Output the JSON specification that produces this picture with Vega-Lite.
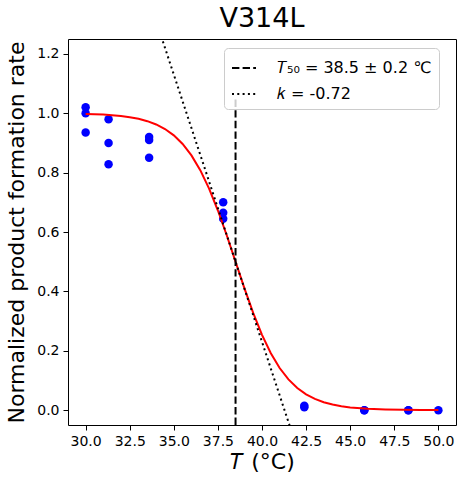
{
  "$schema": "https://vega.github.io/schema/vega-lite/v6.json",
  "width": 388,
  "height": 386,
  "autosize": {"type": "none"},
  "padding": {"left": 68, "top": 39, "right": 8, "bottom": 62},
  "background": "white",
  "title": {"text": "V314L", "fontSize": 27, "font": "DejaVu Sans", "fontWeight": "normal", "color": "black", "offset": 6},
  "datasets": {
    "obs": [
      {"T": 30.0, "rate": 1.02}, {"T": 30.0, "rate": 1.0}, {"T": 30.0, "rate": 0.935},
      {"T": 31.3, "rate": 0.98}, {"T": 31.3, "rate": 0.90}, {"T": 31.3, "rate": 0.828},
      {"T": 33.6, "rate": 0.92}, {"T": 33.6, "rate": 0.91}, {"T": 33.6, "rate": 0.85},
      {"T": 37.8, "rate": 0.70}, {"T": 37.8, "rate": 0.665}, {"T": 37.8, "rate": 0.645},
      {"T": 42.4, "rate": 0.015}, {"T": 42.4, "rate": 0.01},
      {"T": 45.8, "rate": 0.0}, {"T": 45.8, "rate": 0.0},
      {"T": 48.3, "rate": 0.0}, {"T": 48.3, "rate": 0.0},
      {"T": 50.0, "rate": 0.0}
    ],
    "fit": [
      {"T": 30.0, "rate": 0.9978}, {"T": 30.5, "rate": 0.9968}, {"T": 31.0, "rate": 0.9955},
      {"T": 31.5, "rate": 0.9935}, {"T": 32.0, "rate": 0.9908}, {"T": 32.5, "rate": 0.9868},
      {"T": 33.0, "rate": 0.9812}, {"T": 33.5, "rate": 0.9733}, {"T": 34.0, "rate": 0.9622},
      {"T": 34.5, "rate": 0.9468}, {"T": 35.0, "rate": 0.9254}, {"T": 35.5, "rate": 0.8965},
      {"T": 36.0, "rate": 0.858}, {"T": 36.5, "rate": 0.8083}, {"T": 37.0, "rate": 0.7463},
      {"T": 37.5, "rate": 0.6724}, {"T": 38.0, "rate": 0.5891}, {"T": 38.5, "rate": 0.5},
      {"T": 39.0, "rate": 0.411}, {"T": 39.5, "rate": 0.3276}, {"T": 40.0, "rate": 0.2537},
      {"T": 40.5, "rate": 0.1917}, {"T": 41.0, "rate": 0.142}, {"T": 41.5, "rate": 0.1036},
      {"T": 42.0, "rate": 0.0746}, {"T": 42.5, "rate": 0.0532}, {"T": 43.0, "rate": 0.0378},
      {"T": 43.5, "rate": 0.0267}, {"T": 44.0, "rate": 0.0188}, {"T": 44.5, "rate": 0.0132},
      {"T": 45.0, "rate": 0.0092}, {"T": 46.0, "rate": 0.0045}, {"T": 47.0, "rate": 0.0022},
      {"T": 48.0, "rate": 0.0011}, {"T": 49.0, "rate": 0.0005}, {"T": 50.0, "rate": 0.0003}
    ],
    "guides": [
      {"T": 38.5, "rate": -0.05, "series": "𝑇₅₀ = 38.5 ± 0.2 ℃"},
      {"T": 38.5, "rate": 1.05, "series": "𝑇₅₀ = 38.5 ± 0.2 ℃"},
      {"T": 34.0, "rate": 1.31, "series": "𝑘 = -0.72"},
      {"T": 42.0, "rate": -0.13, "series": "𝑘 = -0.72"}
    ]
  },
  "encoding": {
    "x": {
      "field": "T", "type": "quantitative",
      "scale": {"domain": [29, 51], "nice": false, "zero": false},
      "axis": {"title": "𝑇 (°C)", "values": [30, 32.5, 35, 37.5, 40, 42.5, 45, 47.5, 50], "format": ".1f"}
    },
    "y": {
      "field": "rate", "type": "quantitative",
      "scale": {"domain": [-0.05, 1.25], "nice": false, "zero": false},
      "axis": {"title": "Normalized product formation rate", "values": [0, 0.2, 0.4, 0.6, 0.8, 1.0, 1.2], "format": ".1f"}
    }
  },
  "layer": [
    {
      "data": {"name": "obs"},
      "mark": {"type": "circle", "color": "#0000ff", "opacity": 1, "size": 72}
    },
    {
      "data": {"name": "fit"},
      "mark": {"type": "line", "color": "#ff0000", "strokeWidth": 2}
    },
    {
      "data": {"name": "guides"},
      "mark": {"type": "line", "color": "black", "strokeWidth": 2, "clip": true},
      "encoding": {
        "detail": {"field": "series"},
        "strokeDash": {
          "field": "series", "type": "nominal",
          "scale": {"domain": ["𝑇₅₀ = 38.5 ± 0.2 ℃", "𝑘 = -0.72"], "range": [[7.4, 3.2], [2, 3.3]]},
          "legend": {
            "title": null, "orient": "none", "legendX": 156, "legendY": 9,
            "symbolType": "stroke", "symbolSize": 576, "symbolStrokeWidth": 2, "symbolStrokeColor": "black",
            "labelFontSize": 16, "labelFont": "DejaVu Sans", "labelColor": "black", "labelOffset": 20,
            "fillColor": "rgba(255,255,255,0.8)", "strokeColor": "#cccccc", "cornerRadius": 4,
            "padding": 7, "rowPadding": 5
          }
        }
      }
    }
  ],
  "config": {
    "font": "DejaVu Sans",
    "view": {"stroke": "black", "strokeWidth": 1},
    "axis": {
      "grid": false, "domain": false,
      "tickColor": "black", "tickSize": 5, "tickWidth": 1,
      "labelFont": "DejaVu Sans", "labelFontSize": 14, "labelColor": "black", "labelPadding": 4,
      "titleFont": "DejaVu Sans", "titleFontSize": 22, "titleFontWeight": "normal", "titleColor": "black"
    },
    "axisX": {"titlePadding": 3},
    "axisY": {"titlePadding": 8}
  }
}
